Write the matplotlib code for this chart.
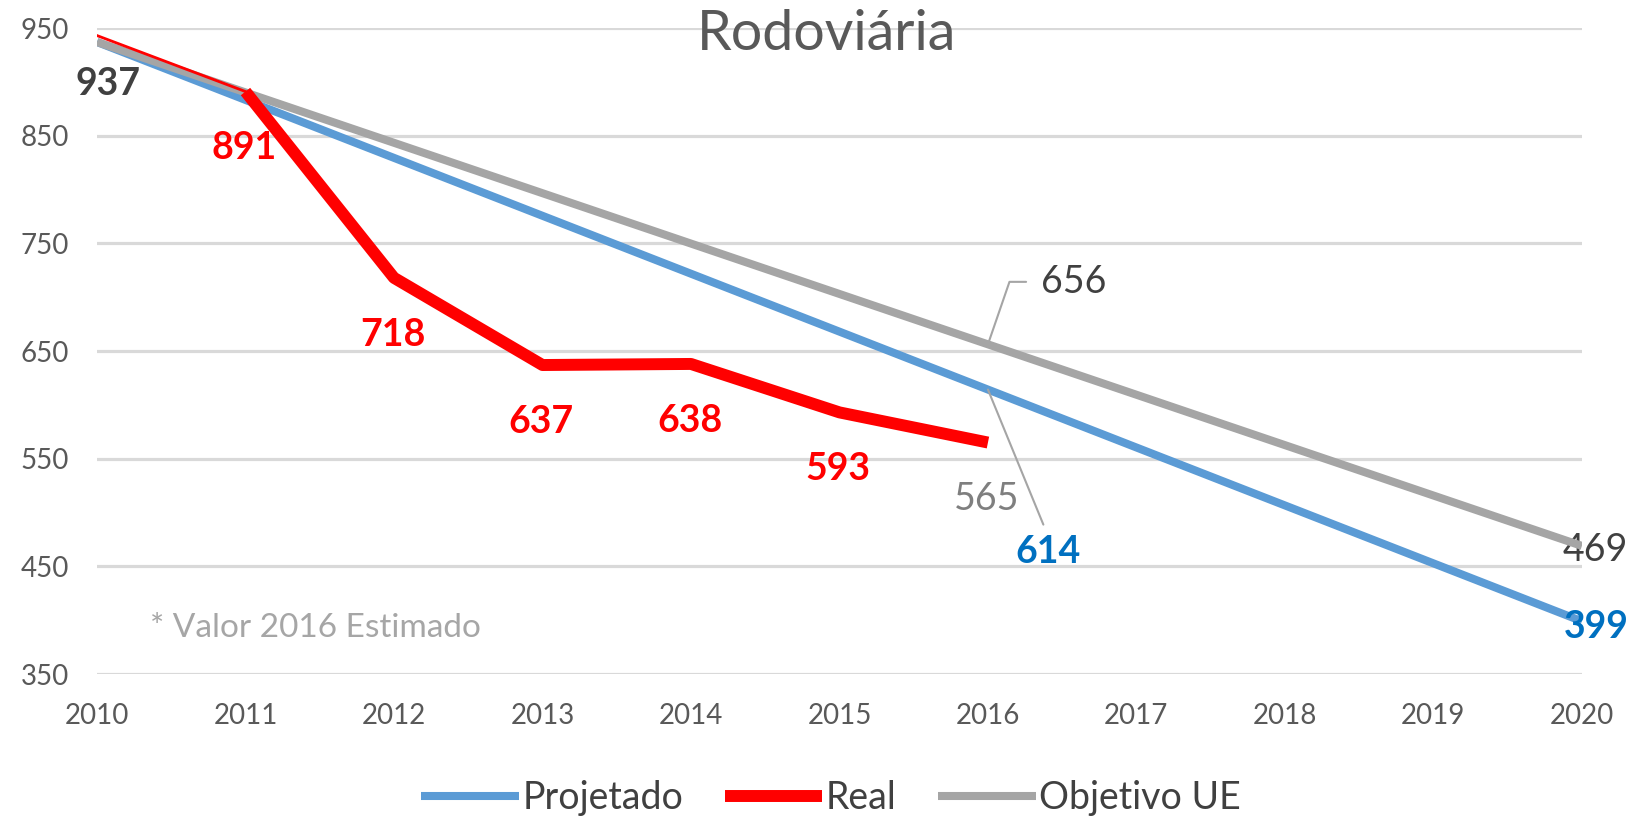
import matplotlib.pyplot as plt

plt.rcParams['font.family'] = ['Lato', 'DejaVu Sans']

anos = [2010, 2011, 2012, 2013, 2014, 2015, 2016, 2017, 2018, 2019, 2020]
projetado = [937, 883.2, 829.4, 775.6, 721.8, 668, 614.2, 560.4, 506.6, 452.8, 399]
objetivo_ue = [937, 890.2, 843.4, 796.6, 749.8, 703, 656.2, 609.4, 562.6, 515.8, 469]
anos_real = [2010, 2011, 2012, 2013, 2014, 2015, 2016]
real = [943, 891, 718, 637, 638, 593, 565]

c_azul = '#5b9bd5'
c_verm = '#ff0000'
c_cinza = '#a5a5a5'

fig = plt.figure(figsize=(16.3, 8.17), dpi=100)
ax = fig.add_axes([0.0595, 0.175, 0.911, 0.7907])

l_proj, = ax.plot(anos, projetado, color=c_azul, lw=5.8, solid_capstyle='butt', zorder=3, label='Projetado')
l_obj, = ax.plot(anos, objetivo_ue, color=c_cinza, lw=5.8, solid_capstyle='butt', zorder=4, label='Objetivo UE')
# primeiro troço fino, depois grosso
ax.plot(anos_real[:2], real[:2], color=c_verm, lw=2, zorder=5)
l_real, = ax.plot(anos_real[1:], real[1:], color=c_verm, lw=8.6, solid_capstyle='butt',
                  solid_joinstyle='round', zorder=5, label='Real')

ax.set_xlim(2010, 2020)
ax.set_ylim(350, 950)
ax.set_yticks(range(350, 951, 100))
ax.set_xticks(anos)
ax.grid(axis='y', color='#d9d9d9', lw=2.3, zorder=0)
for s in ax.spines.values():
    s.set_visible(False)
ax.tick_params(length=0, labelsize=20, labelcolor='#595959')
ax.tick_params(axis='y', pad=20)
ax.tick_params(axis='x', pad=21)

fig.text(0.507, 0.958, 'Rodoviária', fontsize=40, color='#595959', ha='center', va='center')

# rótulos da série Real
for x, v in zip(anos_real[1:], real[1:]):
    cor = '#7f7f7f' if x == 2016 else c_verm
    peso = 'normal' if x == 2016 else 'bold'
    ax.annotate(str(v), (x, v), xytext=(-1, -41), textcoords='offset points',
                ha='center', va='center', fontsize=27, color=cor, fontweight=peso, zorder=6)

ax.annotate('937', (2010, objetivo_ue[0]), xytext=(8, -30), textcoords='offset points',
            ha='center', va='center', fontsize=27, color='#404040', fontweight='bold')
ax.annotate('469', (2020, objetivo_ue[-1]), xytext=(10, -3), textcoords='offset points',
            ha='center', va='center', fontsize=27, color='#404040', annotation_clip=False)
ax.annotate('399', (2020, projetado[-1]), xytext=(10, -4), textcoords='offset points',
            ha='center', va='center', fontsize=27, color='#0070c0', fontweight='bold',
            annotation_clip=False)

ax.annotate('656', (2016, objetivo_ue[6]), xytext=(62, 45), textcoords='offset points',
            ha='center', va='center', fontsize=27, color='#404040',
            arrowprops=dict(arrowstyle='-', color='#a5a5a5', lw=1.5, relpos=(0, 0.5),
                            shrinkA=9, shrinkB=0,
                            connectionstyle='angle,angleA=0,angleB=71,rad=0'))
ax.annotate('614', (2016, projetado[6]), xytext=(43, -117), textcoords='offset points',
            ha='center', va='center', fontsize=27, color='#0070c0', fontweight='bold',
            arrowprops=dict(arrowstyle='-', color='#a5a5a5', lw=1.5, relpos=(0.5, 1),
                            shrinkA=6, shrinkB=0))

ax.text(2010.36, 392.7, '* Valor 2016 Estimado', fontsize=24, color='#a6a6a6',
        ha='left', va='center')

fig.legend(handles=[l_proj, l_real, l_obj], loc='center', bbox_to_anchor=(0.51, 0.023),
           ncol=3, frameon=False, fontsize=27, handlelength=2.6, handletextpad=0.1,
           columnspacing=1.1, labelcolor='#404040')

fig.savefig('out.png', dpi=100)
